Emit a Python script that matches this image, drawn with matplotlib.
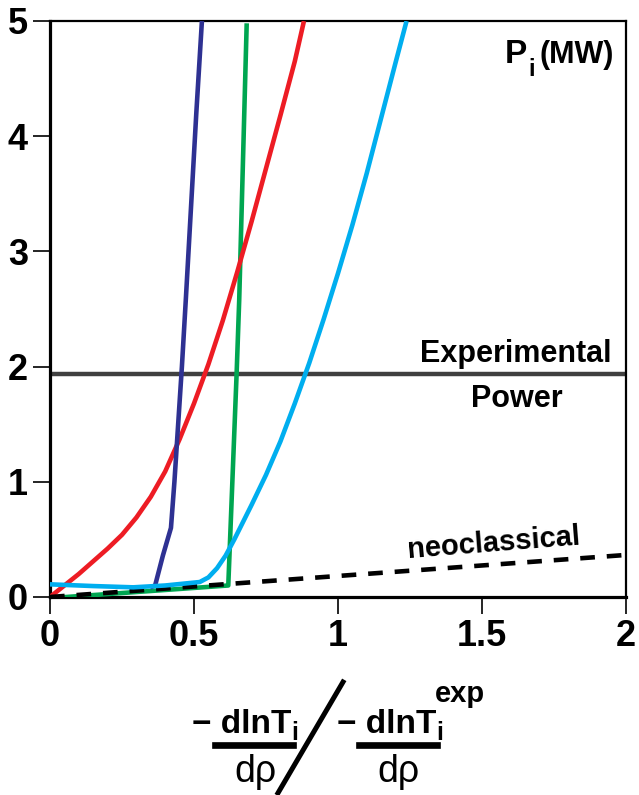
import matplotlib.pyplot as plt
from matplotlib.lines import Line2D

FONT = ['Liberation Sans Narrow', 'Liberation Sans', 'DejaVu Sans']
plt.rcParams['font.family'] = FONT
plt.rcParams['font.weight'] = 'bold'

# curves
blue_x = [0.355, 0.365, 0.392, 0.42, 0.432, 0.445, 0.458, 0.472, 0.49, 0.508, 0.527]
blue_y = [0.09, 0.10, 0.36, 0.60, 1.0, 1.5, 2.0, 2.6, 3.4, 4.2, 4.98]

green_x = [0.0, 0.619, 0.648, 0.657, 0.683]
green_y = [-0.01, 0.10, 1.94, 2.58, 4.98]

red_x = [0.0, 0.05, 0.1, 0.15, 0.2, 0.25, 0.3, 0.35, 0.4, 0.45, 0.5, 0.55, 0.6,
         0.65, 0.7, 0.75, 0.8, 0.85, 0.88]
red_y = [0.0, 0.10, 0.20, 0.31, 0.42, 0.54, 0.69, 0.87, 1.09, 1.37, 1.68, 2.02, 2.40,
         2.82, 3.26, 3.72, 4.18, 4.65, 4.98]

cyan_x = [0.0, 0.15, 0.289, 0.4, 0.52, 0.55, 0.58, 0.61, 0.64, 0.7, 0.75, 0.8, 0.85,
          0.9, 0.95, 1.0, 1.05, 1.1, 1.15, 1.2, 1.236]
cyan_y = [0.11, 0.095, 0.084, 0.10, 0.13, 0.17, 0.25, 0.36, 0.50, 0.80, 1.06, 1.35, 1.68,
          2.03, 2.41, 2.81, 3.23, 3.68, 4.16, 4.64, 4.98]

neo_x = [0.0, 2.0]
neo_y = [0.0, 0.365]

exp_power = 1.94

xticks = [0, 0.5, 1, 1.5, 2]
xtick_labels = ['0', '0.5', '1', '1.5', '2']
yticks = [0, 1, 2, 3, 4, 5]

W, H = 639, 795
fig = plt.figure(figsize=(W / 100, H / 100), dpi=100)
ax = fig.add_axes([50 / W, 1 - 597 / H, 576 / W, 576 / H])


def px(x, y):
    return x / W, 1 - y / H


ax.axhline(exp_power, color='#404040', lw=3.2, zorder=2)
ax.plot(green_x, green_y, color='#00a651', lw=3.3, zorder=3, solid_capstyle='butt')
ax.plot(red_x, red_y, color='#ed1c24', lw=3.3, zorder=3)
ax.plot(blue_x, blue_y, color='#2e3192', lw=3.3, zorder=3)
ax.plot(neo_x, neo_y, color='black', lw=3.3, ls=(0, (3.2, 2.6)), zorder=4)
ax.plot(cyan_x, cyan_y, color='#00aeef', lw=3.3, zorder=5)

ax.set_xlim(0, 2)
ax.set_ylim(0, 5)
ax.set_xticks(xticks)
ax.set_xticklabels(xtick_labels)
ax.set_yticks(yticks)
ax.tick_params(length=12, width=1.2, pad=4, labelsize=26, direction='out')
for lab in ax.get_xticklabels() + ax.get_yticklabels():
    lab.set_fontweight('bold')
    lab.set_family(FONT)
for s in ['left', 'bottom']:
    ax.spines[s].set_linewidth(2.3)
for s in ['top', 'right']:
    ax.spines[s].set_linewidth(1.6)

fig.canvas.draw()
renderer = fig.canvas.get_renderer()


def after(t, gap):
    # x (pixels from left) just right of a text already placed
    bb = t.get_window_extent(renderer)
    return bb.x1 + gap


# annotations inside the plot
fig.text(*px(612, 362), 'Experimental', ha='right', va='baseline', fontsize=22)
fig.text(*px(517, 407), 'Power', ha='center', va='baseline', fontsize=22)
fig.text(*px(494, 543), 'neoclassical', ha='center', va='center', fontsize=21,
         rotation=4.5, rotation_mode='anchor')
t = fig.text(*px(505, 63), 'P', ha='left', va='baseline', fontsize=24)
t = fig.text(*px(after(t, 1), 76), 'i', ha='left', va='baseline', fontsize=17)
fig.text(*px(after(t, 5), 63), '(MW)', ha='left', va='baseline', fontsize=22)

# x axis label built from pieces
for x0, sup in [(192, False), (337, True)]:
    t = fig.text(*px(x0, 733), '\u2212 dlnT', ha='left', va='baseline', fontsize=24)
    xi = after(t, 0)
    fig.text(*px(xi, 740), 'i', ha='left', va='baseline', fontsize=18)
    if sup:
        fig.text(*px(xi - 1, 702), 'exp', ha='left', va='baseline', fontsize=21)

fig.text(*px(255, 782), 'd\u03c1', ha='center', va='baseline', fontsize=27, fontweight='normal')
fig.text(*px(398, 782), 'd\u03c1', ha='center', va='baseline', fontsize=27, fontweight='normal')

for (x0, x1) in [(215, 293), (359, 437)]:
    fig.add_artist(Line2D([x0 / W, x1 / W], [1 - 745 / H, 1 - 745 / H],
                          color='black', lw=4.8, transform=fig.transFigure))
fig.add_artist(Line2D([343 / W, 278 / W], [1 - 682 / H, 1 - 793 / H],
                      color='black', lw=3.6, transform=fig.transFigure))

fig.savefig('out.png', dpi=100)
